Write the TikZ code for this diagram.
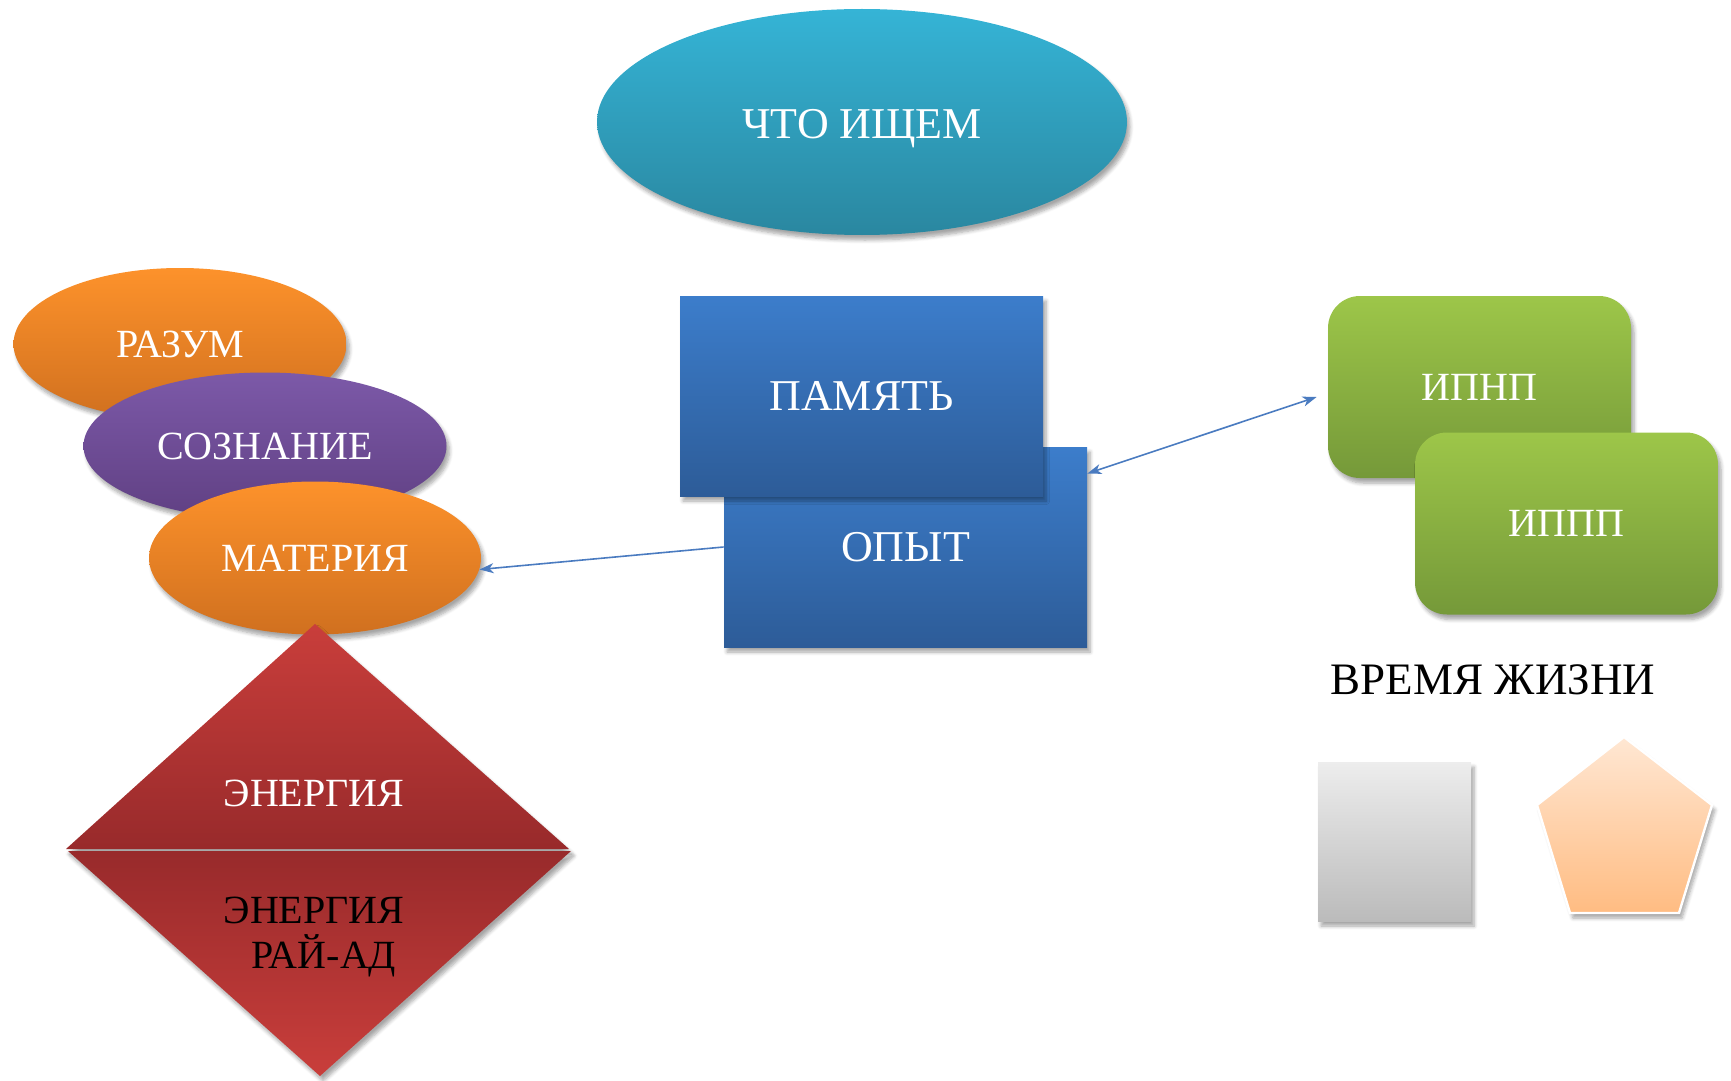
\documentclass[tikz,border=0pt]{standalone}
\usepackage{fontspec}
\setmainfont{Liberation Serif}
\usepackage{tikz}
\usetikzlibrary{shapes,shapes.geometric,arrows.meta,shadows.blur}
\usepackage{xcolor}

\definecolor{seekTop}{HTML}{35B4D6}
\definecolor{seekBot}{HTML}{2A87A0}
\definecolor{orangeTop}{HTML}{FD922B}
\definecolor{orangeBot}{HTML}{D0701F}
\definecolor{purpleTop}{HTML}{7C59A8}
\definecolor{purpleBot}{HTML}{604083}
\definecolor{redTop}{HTML}{C93E3B}
\definecolor{redBot}{HTML}{982A2B}
\definecolor{blueTop}{HTML}{3C7DCB}
\definecolor{blueBot}{HTML}{2D5C98}
\definecolor{greenTop}{HTML}{9DC649}
\definecolor{greenBot}{HTML}{759939}
\definecolor{grayTop}{HTML}{EDEDED}
\definecolor{grayBot}{HTML}{BBBBBB}
\definecolor{peachTop}{HTML}{FFE7D3}
\definecolor{peachBot}{HTML}{FFBC82}
\definecolor{linkblue}{HTML}{4A7BC0}

\begin{document}
\begin{tikzpicture}[x=0.5pt, y=-0.5pt,
	soft/.style={blur shadow={shadow xshift=1.5pt, shadow yshift=-2.5pt, shadow blur steps=6, shadow opacity=35}},
	oval/.style={ellipse, soft, text=white, inner sep=0pt, font=\fontsize{20}{24}\selectfont},
	block/.style={rectangle, soft, text=white, top color=blueTop, bottom color=blueBot, minimum width=181.5pt, minimum height=100pt, font=\fontsize{22}{26}\selectfont},
	tile/.style={rectangle, rounded corners=16pt, soft, text=white, top color=greenTop, bottom color=greenBot, minimum width=151.5pt, minimum height=91pt, font=\fontsize{20}{24}\selectfont},
	link/.style={draw=linkblue, line width=0.8pt}]
	\useasboundingbox (0,0) rectangle (1731,1081);
	
	\node[oval, top color=seekTop, bottom color=seekBot, minimum width=265pt, minimum height=113pt, text depth=0pt, font=\fontsize{22}{26}\selectfont] (seek) at (862,122) {\raisebox{-1.5pt}{ЧТО ИЩЕМ}};
	
	\node[oval, top color=orangeTop, bottom color=orangeBot, minimum width=166.5pt, minimum height=76pt] (mind) at (180,344) {РАЗУМ};
	\node[oval, top color=purpleTop, bottom color=purpleBot, minimum width=181.5pt, minimum height=73.5pt] (consc) at (265,446) {СОЗНАНИЕ};
	\node[oval, top color=orangeTop, bottom color=orangeBot, minimum width=166pt, minimum height=76.5pt] (matter) at (315,558) {МАТЕРИЯ};
	
	\shade[soft, top color=redTop, bottom color=redBot] (315,624) -- (569,849) -- (66,849) -- cycle;
	\shade[soft, top color=redBot, bottom color=redTop] (68,851) -- (571,851) -- (320,1076) -- cycle;
	\node[text=white, font=\fontsize{20}{24}\selectfont] (energy) at (314,793) {ЭНЕРГИЯ};
	\node[align=center, font=\fontsize{20}{22.5}\selectfont] (heaven) at (314,937) {ЭНЕРГИЯ\\\hspace*{0.5em}РАЙ-АД};
	
	\node[block] (exper) at (905.5,547) {ОПЫТ};
	\node[block] (memory) at (861.5,396) {ПАМЯТЬ};
	
	\node[tile] (ipnp) at (1479.5,387) {ИПНП};
	\node[tile] (ippp) at (1566.5,523.5) {ИППП};
	
	\node[font=\fontsize{22.5}{26}\selectfont] (life) at (1493,680) {ВРЕМЯ ЖИЗНИ};
	\node[rectangle, soft, top color=grayTop, bottom color=grayBot, minimum width=76.5pt, minimum height=79.5pt] (clock) at (1394.5,841.5) {};
	\shade[soft, top color=peachTop, bottom color=peachBot, draw=white, line width=1.2pt] (1624,737) -- (1712,805) -- (1679,913) -- (1570,913) -- (1537,805) -- cycle;
	
	\draw[link, -{Stealth[length=7pt, width=5pt, inset=2pt]}] (exper.west) -- (matter.-4);
	\draw[link, {Stealth[length=7pt, width=5pt, inset=2pt]}-{Stealth[length=7pt, width=5pt, inset=2pt]}] (exper.22) -- ([xshift=-5.5pt, yshift=-5pt]ipnp.west);
	
\end{tikzpicture}
\end{document}
